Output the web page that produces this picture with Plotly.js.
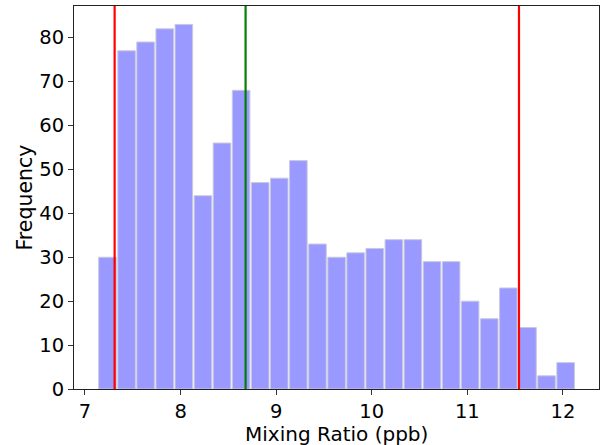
<!DOCTYPE html>
<html>
<head>
<meta charset="utf-8">
<script src="https://cdn.plot.ly/plotly-3.0.1.min.js"></script>
<style>
  html, body { margin: 0; padding: 0; background: #fff; }
  #chart { width: 614px; height: 445px; }
</style>
</head>
<body>
<div id="chart"></div>
<script>
// Histogram bin centres (ppb) and counts
const binCenters = [7.235, 7.435, 7.634, 7.834, 8.034, 8.234, 8.433, 8.633, 8.833, 9.032,
                    9.232, 9.432, 9.632, 9.831, 10.031, 10.231, 10.430, 10.630, 10.830, 11.029,
                    11.229, 11.429, 11.629, 11.828, 12.028];
const counts = [30, 77, 79, 82, 83, 44, 56, 68, 47, 48,
                52, 33, 30, 31, 32, 34, 34, 29, 29, 20,
                16, 23, 14, 3, 6];
const binWidth = 0.1997;

// Reference lines (ppb): lower/upper bounds and centre
const boundLines = [7.31, 11.54];
const centreLine = [8.68];

const xTicks = [7, 8, 9, 10, 11, 12];
const yTicks = [0, 10, 20, 30, 40, 50, 60, 70, 80];

const xTitle = 'Mixing Ratio (ppb)';
const yTitle = 'Frequency';

const font = 'DejaVu Sans, sans-serif';
const fs = 19.5;

const bars = {
  type: 'bar',
  x: binCenters,
  y: counts,
  width: binCenters.map(() => binWidth * 0.92),
  marker: {
    color: 'rgb(153,153,255)',
    line: { color: 'rgb(200,200,222)', width: 1 }
  },
  hoverinfo: 'x+y'
};

const vline = (x, color) => ({
  type: 'line', xref: 'x', yref: 'paper',
  x0: x, x1: x, y0: 0, y1: 1,
  line: { color: color, width: 2.2 },
  layer: 'above'
});

const shapes = boundLines.map(v => vline(v, 'red'))
  .concat(centreLine.map(v => vline(v, 'green')));

const layout = {
  width: 614, height: 445,
  margin: { l: 74, r: 15, t: 6, b: 56 },
  paper_bgcolor: '#fff', plot_bgcolor: '#fff',
  showlegend: false,
  font: { family: font, size: fs, color: '#000' },
  xaxis: {
    range: [6.885, 12.377],
    tickvals: xTicks,
    ticktext: xTicks.map(String),
    ticks: 'outside', ticklen: 5, tickwidth: 1, tickcolor: '#333',
    showgrid: false, zeroline: false,
    showline: true, linecolor: '#222', linewidth: 1, mirror: true,
    tickfont: { family: font, size: fs, color: '#000' }
  },
  yaxis: {
    range: [0, 87.2],
    tickvals: yTicks,
    ticktext: yTicks.map(String),
    ticks: 'outside', ticklen: 5, tickwidth: 1, tickcolor: '#333',
    showgrid: false, zeroline: false,
    showline: true, linecolor: '#222', linewidth: 1, mirror: true,
    tickfont: { family: font, size: fs, color: '#000' },
    title: { text: yTitle, font: { family: font, size: 20.5, color: '#000' }, standoff: 1 }
  },
  annotations: [{
    text: xTitle,
    xref: 'paper', yref: 'paper', x: 0.5, y: 0,
    xanchor: 'center', yanchor: 'top', yshift: -31,
    showarrow: false,
    font: { family: font, size: 20, color: '#000' }
  }],
  shapes: shapes
};

Plotly.newPlot('chart', [bars], layout, { displayModeBar: false, staticPlot: true });
</script>
</body>
</html>
